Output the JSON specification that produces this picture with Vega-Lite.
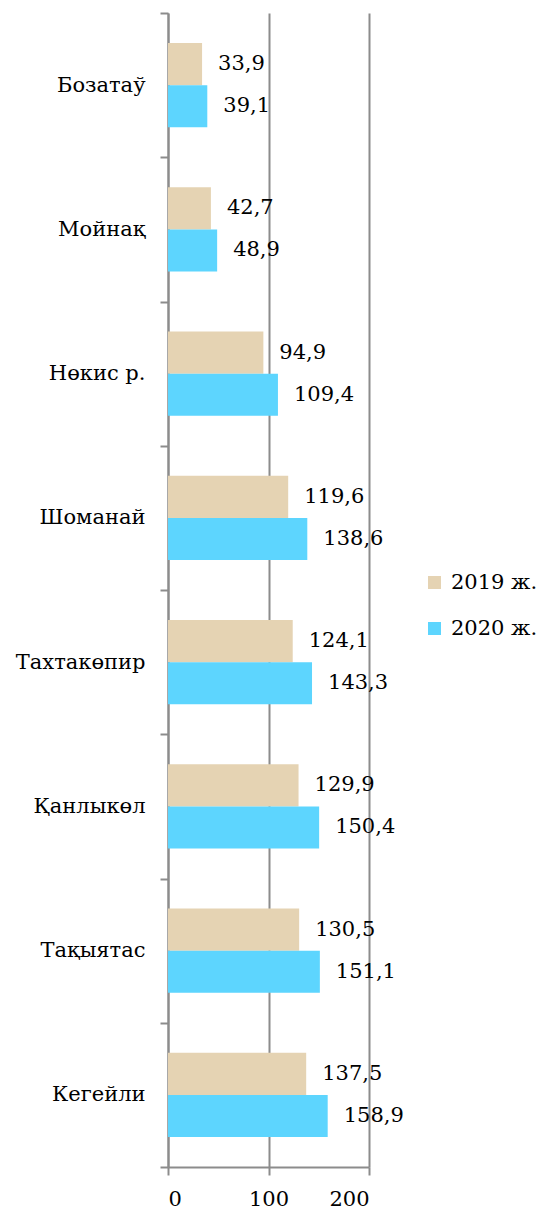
{
  "$schema": "https://vega.github.io/schema/vega-lite/v6.json",
  "width": 201,
  "height": 1154,
  "autosize": "none",
  "padding": {"left": 168, "top": 13, "right": 167, "bottom": 44},
  "config": {
    "font": "DejaVu Serif",
    "view": {"stroke": null},
    "locale": {"number": {"decimal": ",", "thousands": " ", "grouping": [3], "currency": ["", ""]}}
  },
  "data": {
    "values": [
      {"region": "Бозатаў", "year": "2019 ж.", "value": 33.9},
      {"region": "Бозатаў", "year": "2020 ж.", "value": 39.1},
      {"region": "Мойнақ", "year": "2019 ж.", "value": 42.7},
      {"region": "Мойнақ", "year": "2020 ж.", "value": 48.9},
      {"region": "Нөкис р.", "year": "2019 ж.", "value": 94.9},
      {"region": "Нөкис р.", "year": "2020 ж.", "value": 109.4},
      {"region": "Шоманай", "year": "2019 ж.", "value": 119.6},
      {"region": "Шоманай", "year": "2020 ж.", "value": 138.6},
      {"region": "Тахтакөпир", "year": "2019 ж.", "value": 124.1},
      {"region": "Тахтакөпир", "year": "2020 ж.", "value": 143.3},
      {"region": "Қанлыкөл", "year": "2019 ж.", "value": 129.9},
      {"region": "Қанлыкөл", "year": "2020 ж.", "value": 150.4},
      {"region": "Тақыятас", "year": "2019 ж.", "value": 130.5},
      {"region": "Тақыятас", "year": "2020 ж.", "value": 151.1},
      {"region": "Кегейли", "year": "2019 ж.", "value": 137.5},
      {"region": "Кегейли", "year": "2020 ж.", "value": 158.9}
    ]
  },
  "encoding": {
    "y": {
      "field": "region", "type": "nominal", "sort": null,
      "scale": {"paddingInner": 0, "paddingOuter": 0},
      "axis": {
        "title": null, "tickBand": "extent", "tickSize": 8, "tickWidth": 2, "tickColor": "#8c8c8c",
        "domainColor": "#8c8c8c", "domainWidth": 2, "labelFontSize": 21, "labelColor": "#000000",
        "labelFont": "DejaVu Serif", "labelPadding": 15, "labelLimit": 300
      }
    },
    "yOffset": {
      "field": "year", "type": "nominal",
      "scale": {"paddingInner": 0, "paddingOuter": 0.717}
    },
    "x": {
      "field": "value", "type": "quantitative",
      "scale": {"domain": [0, 200], "nice": false},
      "axis": {
        "title": null, "values": [0, 100, 200], "grid": true, "gridColor": "#8c8c8c", "gridWidth": 2,
        "domainColor": "#8c8c8c", "domainWidth": 2, "tickColor": "#8c8c8c", "tickWidth": 2, "tickSize": 8,
        "labelFontSize": 21, "labelColor": "#000000", "labelFont": "DejaVu Serif", "labelPadding": 13, "format": "d"
      }
    }
  },
  "layer": [
    {
      "mark": {"type": "bar"},
      "encoding": {
        "color": {
          "field": "year", "type": "nominal",
          "scale": {"range": ["#E5D3B3", "#5DD5FE"]},
          "legend": {
            "orient": "none", "legendX": 256, "legendY": 559, "title": null,
            "symbolType": "square", "symbolSize": 169, "symbolStrokeWidth": 0,
            "labelFont": "DejaVu Serif", "labelFontSize": 21, "labelColor": "#000000",
            "rowPadding": 24, "labelOffset": 6, "labelLimit": 200
          }
        }
      }
    },
    {
      "mark": {"type": "text", "align": "left", "baseline": "middle", "dx": 16, "fontSize": 21, "font": "DejaVu Serif", "color": "#000000"},
      "encoding": {"text": {"field": "value", "type": "quantitative", "format": ".1f"}}
    }
  ]
}
